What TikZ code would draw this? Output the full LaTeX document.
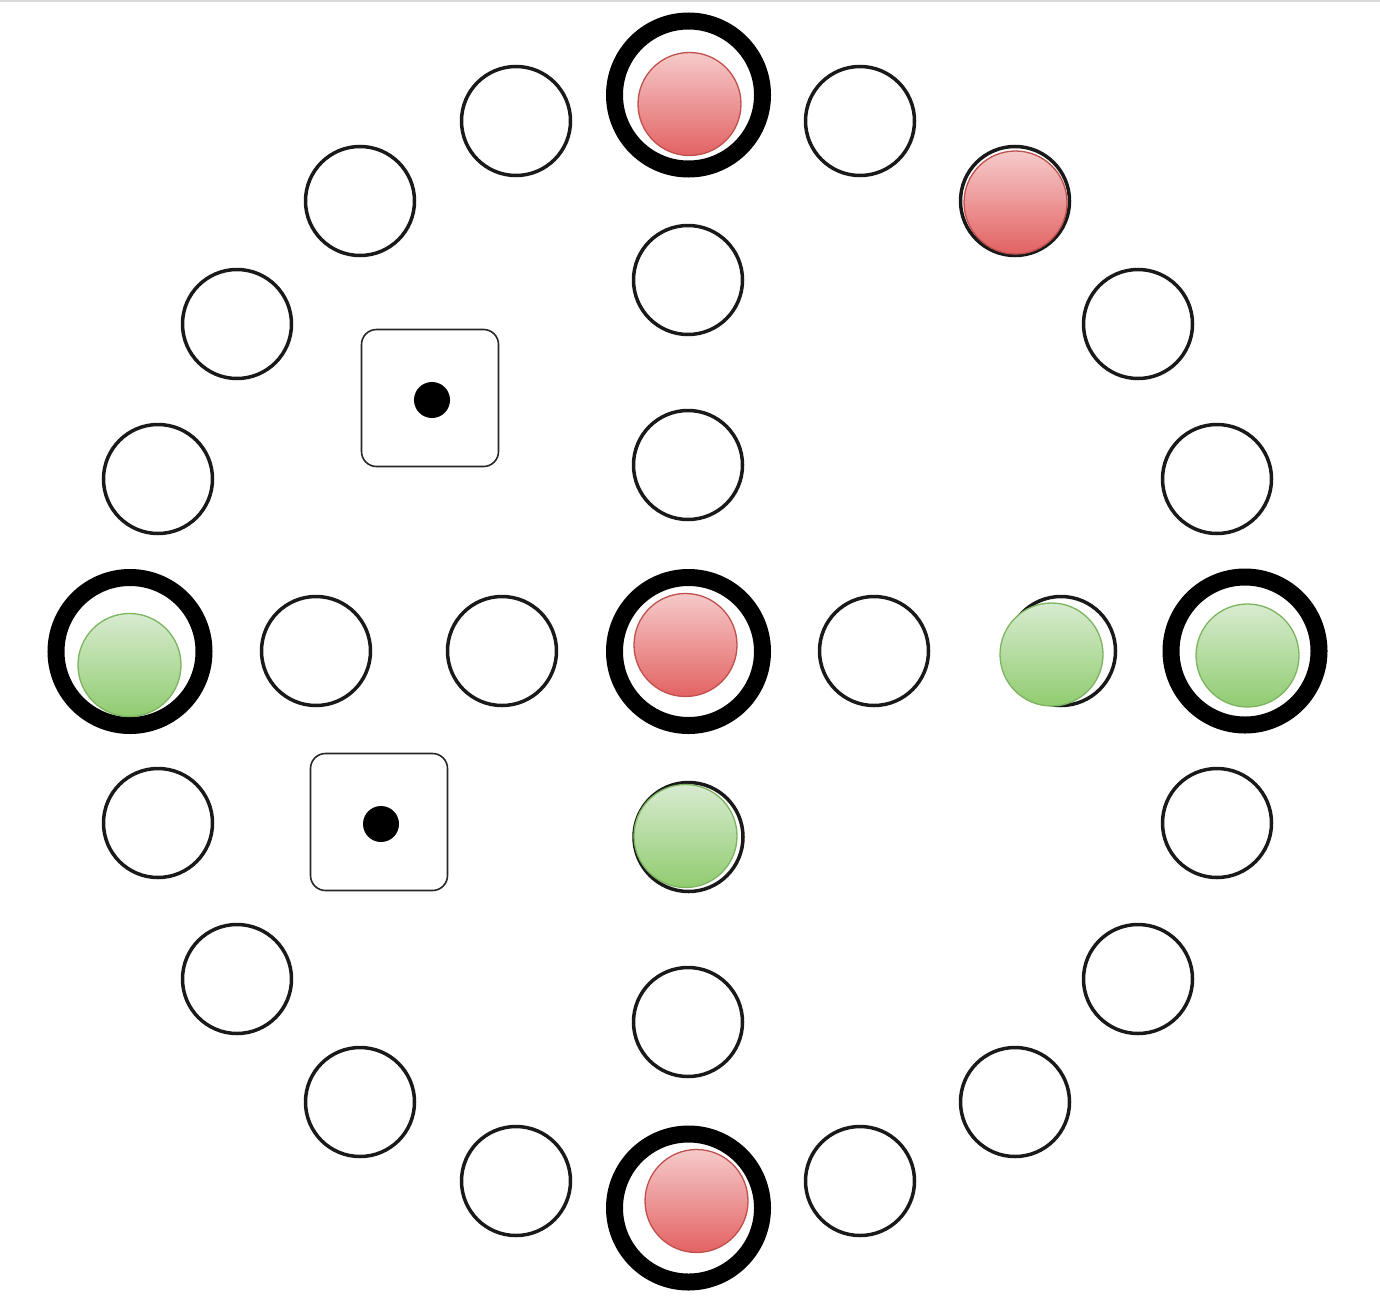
\documentclass[tikz,border=0pt]{standalone}
\usetikzlibrary{calc}
\definecolor{redtop}{RGB}{246,202,202}
\definecolor{redbot}{RGB}{227,98,98}
\definecolor{redline}{RGB}{192,80,77}
\definecolor{greentop}{RGB}{216,235,208}
\definecolor{greenbot}{RGB}{144,204,112}
\definecolor{greenline}{RGB}{125,180,95}
\tikzset{
  cell/.style={circle, draw=black!90, line width=3.5pt, minimum size=109pt, inner sep=0pt, outer sep=0pt},
  home/.style={circle, draw=black, line width=17pt, minimum size=148pt, inner sep=0pt, outer sep=0pt},
  redpiece/.style={circle, draw=redline, line width=1.3pt, top color=redtop, bottom color=redbot, minimum size=103pt, inner sep=0pt},
  greenpiece/.style={circle, draw=greenline, line width=1.3pt, top color=greentop, bottom color=greenbot, minimum size=103pt, inner sep=0pt},
  die/.style={draw=black!85, line width=1.6pt, rounded corners=15pt, minimum size=137pt, inner sep=0pt, fill=white},
  pip/.style={circle, fill=black, minimum size=36pt, inner sep=0pt}
}
\begin{document}
\begin{tikzpicture}[x=1pt, y=-1pt]
\useasboundingbox (0,0) rectangle (1380,1306);
\fill[white] (0,0) rectangle (1380,1306);
\coordinate (tl) at (0,1);
\coordinate (tr) at (1380,1);
\draw[black!15, line width=1.5pt] (tl) -- (tr);

% outer ring of cells
\node[cell] (o1)  at (516,121) {};
\node[cell] (o2)  at (860,121) {};
\node[cell] (o3)  at (360,201) {};
\node[cell] (o4)  at (1015,201) {};
\node[cell] (o5)  at (237,324) {};
\node[cell] (o6)  at (1138,324) {};
\node[cell] (o7)  at (158,479) {};
\node[cell] (o8)  at (1217,479) {};
\node[cell] (o9)  at (158,823) {};
\node[cell] (o10) at (1217,823) {};
\node[cell] (o11) at (237,979) {};
\node[cell] (o12) at (1138,979) {};
\node[cell] (o13) at (360,1102) {};
\node[cell] (o14) at (1015,1102) {};
\node[cell] (o15) at (516,1181) {};
\node[cell] (o16) at (860,1181) {};

% home rings
\node[home] (hT) at (688.5,95) {};
\node[home] (hB) at (688.5,1208) {};
\node[home] (hL) at (130,651.5) {};
\node[home] (hR) at (1245,651) {};
\node[home] (hC) at (688.5,651.5) {};

% inner cross
\node[cell] (v1) at (688,280) {};
\node[cell] (v2) at (688,465) {};
\node[cell] (v3) at (688.5,837) {};
\node[cell] (v4) at (688,1022) {};
\node[cell] (h1) at (316,651) {};
\node[cell] (h2) at (502,651) {};
\node[cell] (h3) at (874,651) {};
\node[cell] (h4) at (1061,651) {};

% dice
\node[die] (d1) at (430,398) {};
\node[pip] (p1) at (432,400) {};
\node[die] (d2) at (379,822) {};
\node[pip] (p2) at (381,824) {};

% pieces
\node[redpiece] (r1) at (689.5,104) {};
\node[redpiece] (r2) at (1015.5,202.5) {};
\node[redpiece] (r3) at (685.5,645) {};
\node[redpiece] (r4) at (696.5,1201) {};
\node[greenpiece] (g1) at (129.5,665) {};
\node[greenpiece] (g2) at (1051.5,654.5) {};
\node[greenpiece] (g3) at (1247.5,655.5) {};
\node[greenpiece] (g4) at (685.5,836) {};
\end{tikzpicture}
\end{document}
